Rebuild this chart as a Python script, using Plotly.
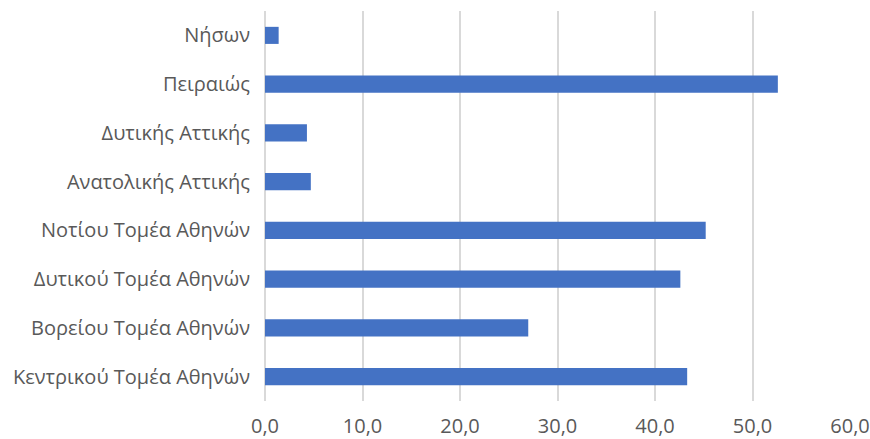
import plotly.graph_objects as go

categories = ["Κεντρικού Τομέα Αθηνών", "Βορείου Τομέα Αθηνών", "Δυτικού Τομέα Αθηνών",
              "Νοτίου Τομέα Αθηνών", "Ανατολικής Αττικής", "Δυτικής Αττικής",
              "Πειραιώς", "Νήσων"]
values = [43.3, 27.0, 42.6, 45.2, 4.7, 4.3, 52.6, 1.4]
tick_vals = [0, 10, 20, 30, 40, 50, 60]

fig = go.Figure(go.Bar(
    x=values, y=categories, orientation="h",
    marker=dict(color="#4472C4", line=dict(width=0)),
    width=0.35,
))

fig.update_layout(
    width=870, height=439,
    margin=dict(l=265, r=20, t=11, b=38, autoexpand=False),
    plot_bgcolor="white", paper_bgcolor="white",
    separators=",.",
    font=dict(family="Open Sans", size=20, color="#595959"),
    showlegend=False,
)
fig.update_xaxes(
    range=[0, 60], tickvals=tick_vals, tickformat=".1f",
    showgrid=True, gridcolor="#d9d9d9", gridwidth=1.5,
    zeroline=True, zerolinecolor="#d9d9d9", zerolinewidth=1.5,
    showline=False, ticks="", automargin=False,
    ticklabelstandoff=11,
    tickfont=dict(size=20, color="#595959"),
)
fig.update_yaxes(
    showgrid=False, zeroline=False, showline=False,
    ticks="", ticklabelstandoff=14, automargin=False,
    tickfont=dict(size=20, color="#595959"),
    range=[-0.5, 7.5],
)

fig.write_html("out.html", config={"displayModeBar": False},
               post_script="document.body.style.margin='0';document.body.style.overflow='hidden';")
